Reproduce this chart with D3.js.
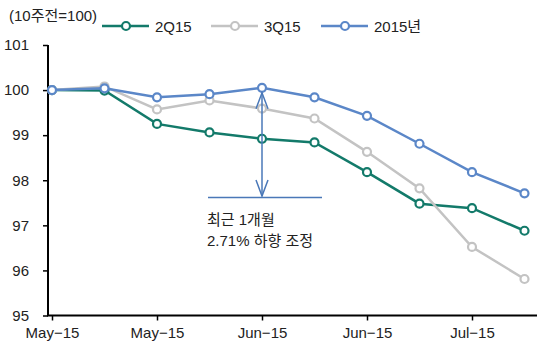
<!DOCTYPE html>
<html><head><meta charset="utf-8">
<script src="https://cdn.jsdelivr.net/npm/d3@7"></script>
<style>body{margin:0;background:#fff}svg{display:block}</style>
</head><body>
<svg id="c" width="550" height="348"></svg>
<script>
const weeks = ["w1","w2","w3","w4","w5","w6","w7","w8","w9","w10"];
const xTickLabels = ["May\u221215","May\u221215","Jun\u221215","Jun\u221215","Jul\u221215"];
const yTicks = [95,96,97,98,99,100,101];
const s2Q15 = [100.0, 99.99, 99.25, 99.06, 98.92, 98.84, 98.18, 97.48, 97.38, 96.88];
const s3Q15 = [100.0, 100.08, 99.57, 99.77, 99.59, 99.37, 98.63, 97.82, 96.52, 95.81];
const s2015 = [100.0, 100.04, 99.84, 99.91, 100.05, 99.84, 99.43, 98.81, 98.18, 97.71];
const seriesNames = ["2Q15","3Q15","2015\ub144"];
const annotation = ["\ucd5c\uadfc 1\uac1c\uc6d4","2.71% \ud558\ud5a5 \uc870\uc815"];

const colors = ["#137a6a","#c3c3c3","#5b87c8"];
const data = [s2Q15, s3Q15, s2015];
const font = "'Liberation Sans', 'Noto Sans CJK KR', sans-serif";
const fs = "15px";
const svg = d3.select("#c").style("font-family", font);

const x = d3.scalePoint().domain(weeks).range([52, 524.5]);
const y = d3.scaleLinear().domain([95, 101]).range([315.5, 45]);

// axes
const yAxis = svg.append("g").attr("transform","translate(48,0)")
  .call(d3.axisLeft(y).tickValues(yTicks).tickFormat(d3.format("d")).tickSize(5).tickPadding(14));
yAxis.select(".domain").attr("d","M0,45V316").attr("stroke","#000").attr("stroke-width",2);
const xAxis = svg.append("g").attr("transform","translate(0,315.5)")
  .call(d3.axisBottom(x).tickValues(weeks.filter((d,i)=>i%2===0))
    .tickFormat((d,i)=>xTickLabels[i]).tickSize(5).tickPadding(7));
xAxis.select(".domain").attr("d","M47,0H537").attr("stroke","#000").attr("stroke-width",2);
svg.selectAll(".tick line").attr("stroke","#000").attr("stroke-width",1.5);
svg.selectAll(".tick text").attr("fill","#222").style("font-size",fs).style("font-family",font);

// lines
const line = d3.line().x((d,i)=>x(weeks[i])).y(d=>y(d));
data.forEach((s,k)=>{
  svg.append("path").datum(s).attr("d",line).attr("fill","none")
    .attr("stroke",colors[k]).attr("stroke-width",2.5);
  svg.append("g").selectAll("circle").data(s).join("circle")
    .attr("cx",(d,i)=>x(weeks[i])).attr("cy",d=>y(d)).attr("r",4)
    .attr("fill","#fff").attr("stroke",colors[k]).attr("stroke-width",2.2);
});

// annotation arrow
const ax = x(weeks[4]);
const yTop = y(s2015[4]) + 5, yBot = 196;
const ann = svg.append("g").attr("stroke","#4a78b8").attr("stroke-width",1.5).attr("fill","none");
ann.append("line").attr("x1",ax).attr("x2",ax).attr("y1",yTop).attr("y2",yBot);
ann.append("path").attr("d",`M${ax-6},${yTop+16}L${ax},${yTop}L${ax+6},${yTop+16}`);
ann.append("path").attr("d",`M${ax-6},${yBot-16}L${ax},${yBot}L${ax+6},${yBot-16}`);
ann.append("line").attr("x1",208).attr("x2",322).attr("y1",197.5).attr("y2",197.5);
svg.append("text").attr("x",207).attr("y",225).attr("fill","#222").style("font-size",fs).text(annotation[0]);
svg.append("text").attr("x",207).attr("y",246).attr("fill","#222").style("font-size",fs).text(annotation[1]);

// legend
svg.append("text").attr("x",9).attr("y",21).attr("fill","#222").style("font-size",fs).text("(10\uc8fc\uc804=100)");
const legX = [102, 211, 321];
seriesNames.forEach((n,k)=>{
  const g = svg.append("g").attr("transform",`translate(${legX[k]},26)`);
  g.append("line").attr("x1",0).attr("x2",47).attr("stroke",colors[k]).attr("stroke-width",2.5);
  g.append("circle").attr("cx",24).attr("r",4).attr("fill","#fff").attr("stroke",colors[k]).attr("stroke-width",2.2);
  g.append("text").attr("x",53).attr("y",5.5).attr("fill","#222").style("font-size",fs).text(n);
});
</script>
</body></html>
